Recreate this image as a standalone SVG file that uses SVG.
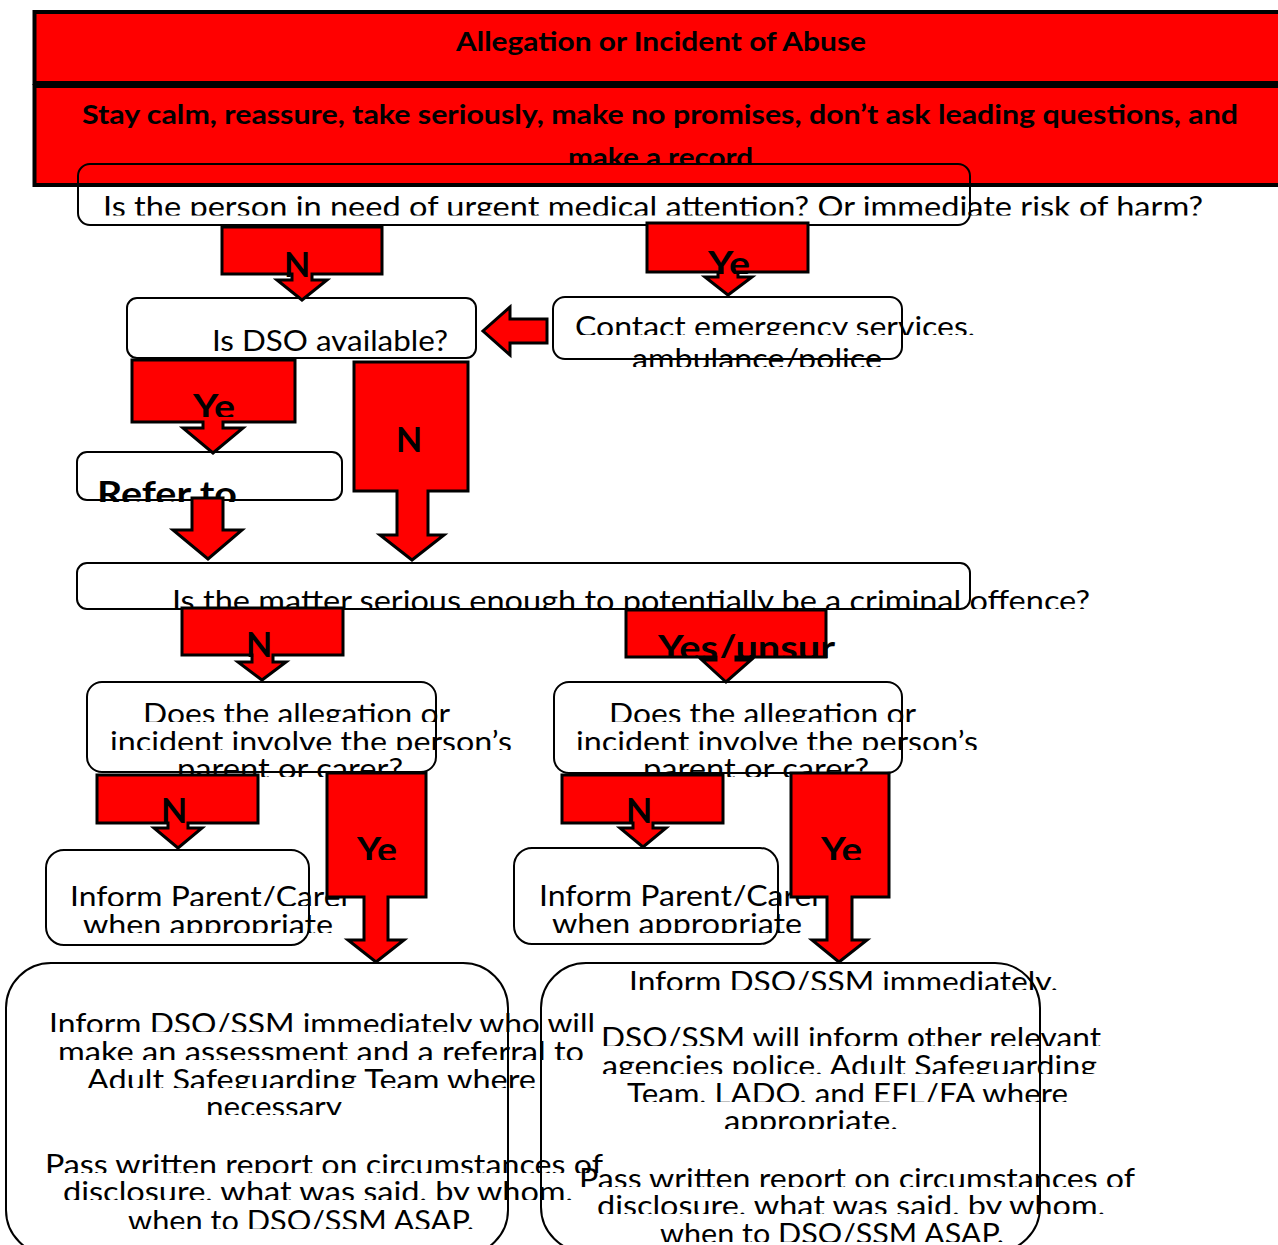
<svg xmlns="http://www.w3.org/2000/svg" width="1278" height="1245" viewBox="0 0 1278 1245">
<style>
.t{font-family:Lato,"Liberation Sans",sans-serif;font-size:29px;fill:#000}
.b{font-family:Lato,"Liberation Sans",sans-serif;font-weight:bold;fill:#000}
.hb{font-size:27px}
.lb{font-size:34px}
.box{fill:none;stroke:#000;stroke-width:2}
.hdr{fill:#f00;stroke:#000;stroke-width:4}
.arw{fill:#f00;stroke:#000;stroke-width:3;stroke-linejoin:miter}
</style>
<defs>
<clipPath id="c165"><rect x="0" y="0" width="1278" height="165"/></clipPath>
<clipPath id="c215"><rect x="0" y="0" width="1278" height="215.5"/></clipPath>
<clipPath id="c274"><rect x="0" y="0" width="1278" height="274"/></clipPath>
<clipPath id="c335"><rect x="0" y="0" width="1278" height="335"/></clipPath>
<clipPath id="c367"><rect x="0" y="0" width="1278" height="367"/></clipPath>
<clipPath id="c417"><rect x="0" y="0" width="1278" height="417"/></clipPath>
<clipPath id="c502"><rect x="0" y="0" width="1278" height="502"/></clipPath>
<clipPath id="c609"><rect x="0" y="0" width="1278" height="609"/></clipPath>
<clipPath id="c658"><rect x="0" y="0" width="1278" height="658"/></clipPath>
<clipPath id="c722"><rect x="0" y="0" width="1278" height="722"/></clipPath>
<clipPath id="c750"><rect x="0" y="0" width="1278" height="750"/></clipPath>
<clipPath id="c777"><rect x="0" y="0" width="1278" height="777"/></clipPath>
<clipPath id="c860"><rect x="0" y="0" width="1278" height="860"/></clipPath>
<clipPath id="c906"><rect x="0" y="0" width="1278" height="906"/></clipPath>
<clipPath id="c933"><rect x="0" y="0" width="1278" height="933"/></clipPath>
<clipPath id="c990"><rect x="0" y="0" width="1278" height="990"/></clipPath>
<clipPath id="c1032"><rect x="0" y="0" width="1278" height="1032"/></clipPath>
<clipPath id="c1046"><rect x="0" y="0" width="1278" height="1046"/></clipPath>
<clipPath id="c1060"><rect x="0" y="0" width="1278" height="1060"/></clipPath>
<clipPath id="c1074"><rect x="0" y="0" width="1278" height="1074"/></clipPath>
<clipPath id="c1088"><rect x="0" y="0" width="1278" height="1088"/></clipPath>
<clipPath id="c1102"><rect x="0" y="0" width="1278" height="1102"/></clipPath>
<clipPath id="c1115"><rect x="0" y="0" width="1278" height="1115"/></clipPath>
<clipPath id="c1129"><rect x="0" y="0" width="1278" height="1129"/></clipPath>
<clipPath id="c1173"><rect x="0" y="0" width="1278" height="1173"/></clipPath>
<clipPath id="c1187"><rect x="0" y="0" width="1278" height="1187"/></clipPath>
<clipPath id="c1200"><rect x="0" y="0" width="1278" height="1200"/></clipPath>
<clipPath id="c1214"><rect x="0" y="0" width="1278" height="1214"/></clipPath>
<clipPath id="c1229"><rect x="0" y="0" width="1278" height="1229"/></clipPath>
<clipPath id="c1242"><rect x="0" y="0" width="1278" height="1242"/></clipPath>
</defs>
<rect x="0" y="0" width="1278" height="1245" fill="#fff"/>

<g id="header-allegation">
<rect class="hdr" x="34.5" y="12" width="1260" height="71"/>
<text class="b hb" x="456" y="51" textLength="410" lengthAdjust="spacingAndGlyphs">Allegation or Incident of Abuse</text>
</g>
<g id="header-guidance">
<rect class="hdr" x="34.5" y="86" width="1260" height="99"/>
<text class="b hb" x="82" y="124" textLength="1156" lengthAdjust="spacingAndGlyphs">Stay calm, reassure, take seriously, make no promises, don’t ask leading questions, and</text>
<text class="b hb" x="568" y="166.5" textLength="185" lengthAdjust="spacingAndGlyphs" clip-path="url(#c165)">make a record</text>
</g>

<g id="q-urgent">
<rect class="box" x="78" y="164" width="892" height="61" rx="12"/>
<text class="t" x="103" y="217" textLength="1100" lengthAdjust="spacingAndGlyphs" clip-path="url(#c215)">Is the person in need of urgent medical attention? Or immediate risk of harm?</text>
</g>

<g id="q-dso">
<rect class="box" x="127" y="298" width="349" height="60" rx="10"/>
<text class="t" x="212" y="351" textLength="236" lengthAdjust="spacingAndGlyphs">Is DSO available?</text>
</g>

<g id="contact-emergency">
<rect class="box" x="553" y="297" width="349" height="62" rx="12"/>
<text class="t" x="575" y="336.5" textLength="400" lengthAdjust="spacingAndGlyphs" clip-path="url(#c335)">Contact emergency services,</text>
<text class="t" x="632" y="368.5" textLength="250" lengthAdjust="spacingAndGlyphs" clip-path="url(#c367)">ambulance/police</text>
</g>

<g id="refer-dso">
<rect class="box" x="77" y="452" width="265" height="48" rx="10"/>
<text class="b lb" x="97" y="506" textLength="140" lengthAdjust="spacingAndGlyphs" clip-path="url(#c502)">Refer to</text>
</g>

<g id="q-criminal">
<rect class="box" x="77" y="563" width="893" height="46" rx="10"/>
<text class="t" x="172" y="610.5" textLength="918" lengthAdjust="spacingAndGlyphs" clip-path="url(#c609)">Is the matter serious enough to potentially be a criminal offence?</text>
</g>

<g id="q-parent-left">
<rect class="box" x="87" y="682" width="349" height="90" rx="15"/>
<text class="t" x="143" y="723.5" textLength="307" lengthAdjust="spacingAndGlyphs" clip-path="url(#c722)">Does the allegation or</text>
<text class="t" x="110" y="751.5" textLength="402" lengthAdjust="spacingAndGlyphs" clip-path="url(#c750)">incident involve the person’s</text>
<text class="t" x="177" y="778.5" textLength="226" lengthAdjust="spacingAndGlyphs" clip-path="url(#c777)">parent or carer?</text>
</g>

<g id="q-parent-right">
<rect class="box" x="554" y="682" width="348" height="91" rx="15"/>
<text class="t" x="609" y="723.5" textLength="307" lengthAdjust="spacingAndGlyphs" clip-path="url(#c722)">Does the allegation or</text>
<text class="t" x="576" y="751.5" textLength="402" lengthAdjust="spacingAndGlyphs" clip-path="url(#c750)">incident involve the person’s</text>
<text class="t" x="643" y="778.5" textLength="226" lengthAdjust="spacingAndGlyphs" clip-path="url(#c777)">parent or carer?</text>
</g>

<g id="inform-parent-left">
<rect class="box" x="46" y="850" width="263" height="95" rx="18"/>
<text class="t" x="70" y="906.5" textLength="282" lengthAdjust="spacingAndGlyphs" clip-path="url(#c906)">Inform Parent/Carer</text>
<text class="t" x="83" y="934.5" textLength="250" lengthAdjust="spacingAndGlyphs" clip-path="url(#c933)">when appropriate</text>
</g>

<g id="inform-parent-right">
<rect class="box" x="514" y="848" width="264" height="96" rx="18"/>
<text class="t" x="539" y="906" textLength="284" lengthAdjust="spacingAndGlyphs" clip-path="url(#c906)">Inform Parent/Carer</text>
<text class="t" x="552" y="934" textLength="250" lengthAdjust="spacingAndGlyphs" clip-path="url(#c933)">when appropriate</text>
</g>

<g id="action-left">
<rect class="box" x="6" y="963" width="502" height="292" rx="45"/>
<text class="t" x="49" y="1033.5" textLength="546" lengthAdjust="spacingAndGlyphs" clip-path="url(#c1032)">Inform DSO/SSM immediately who will</text>
<text class="t" x="58" y="1061.5" textLength="526" lengthAdjust="spacingAndGlyphs" clip-path="url(#c1060)">make an assessment and a referral to</text>
<text class="t" x="87" y="1089.5" textLength="449" lengthAdjust="spacingAndGlyphs" clip-path="url(#c1088)">Adult Safeguarding Team where</text>
<text class="t" x="206" y="1116.5" textLength="136" lengthAdjust="spacingAndGlyphs" clip-path="url(#c1115)">necessary</text>
<text class="t" x="45" y="1174.5" textLength="558" lengthAdjust="spacingAndGlyphs" clip-path="url(#c1173)">Pass written report on circumstances of</text>
<text class="t" x="63" y="1201.5" textLength="510" lengthAdjust="spacingAndGlyphs" clip-path="url(#c1200)">disclosure, what was said, by whom,</text>
<text class="t" x="128" y="1230.5" textLength="346" lengthAdjust="spacingAndGlyphs" clip-path="url(#c1229)">when to DSO/SSM ASAP.</text>
</g>

<g id="action-right">
<rect class="box" x="541" y="963" width="499" height="289" rx="45"/>
<text class="t" x="629" y="991.5" textLength="429" lengthAdjust="spacingAndGlyphs" clip-path="url(#c990)">Inform DSO/SSM immediately.</text>
<text class="t" x="601" y="1047.5" textLength="500" lengthAdjust="spacingAndGlyphs" clip-path="url(#c1046)">DSO/SSM will inform other relevant</text>
<text class="t" x="602" y="1075.5" textLength="495" lengthAdjust="spacingAndGlyphs" clip-path="url(#c1074)">agencies police, Adult Safeguarding</text>
<text class="t" x="627" y="1103.5" textLength="441" lengthAdjust="spacingAndGlyphs" clip-path="url(#c1102)">Team, LADO, and EFL/FA where</text>
<text class="t" x="724" y="1130.5" textLength="174" lengthAdjust="spacingAndGlyphs" clip-path="url(#c1129)">appropriate.</text>
<text class="t" x="579" y="1188.5" textLength="556" lengthAdjust="spacingAndGlyphs" clip-path="url(#c1187)">Pass written report on circumstances of</text>
<text class="t" x="597" y="1215.5" textLength="508" lengthAdjust="spacingAndGlyphs" clip-path="url(#c1214)">disclosure, what was said, by whom,</text>
<text class="t" x="660" y="1243.5" textLength="344" lengthAdjust="spacingAndGlyphs" clip-path="url(#c1242)">when to DSO/SSM ASAP.</text>
</g>

<g id="connectors">
<polygon class="arw" points="222,227 382,227 382,274 312,274 312,280 327,280 302,300 277,280 292,280 292,274 222,274"/>
<text class="b lb" x="284" y="277">N</text>

<polygon class="arw" points="647,223 808,223 808,272 738,272 738,277 752,277 728,295 705,277 718,277 718,272 647,272"/>
<text class="b lb" x="708" y="276" textLength="42" lengthAdjust="spacingAndGlyphs" clip-path="url(#c274)">Ye</text>

<polygon class="arw" points="547,319 510,319 510,307 483,331 510,355 510,343 547,343"/>

<polygon class="arw" points="132,360 295,360 295,422 223,422 223,428 243,428 213,453 183,428 203,428 203,422 132,422"/>
<text class="b lb" x="193" y="419" textLength="42" lengthAdjust="spacingAndGlyphs" clip-path="url(#c417)">Ye</text>

<polygon class="arw" points="354,362 468,362 468,491 428,491 428,535 444,535 412,560 380,535 397,535 397,491 354,491"/>
<text class="b lb" x="396" y="452">N</text>

<polygon class="arw" points="192,498 223,498 223,530 242,530 208,559 173,530 192,530"/>

<polygon class="arw" points="182,608 343,608 343,655 273,655 273,662 286,662 262,680 238,662 252,662 252,655 182,655"/>
<text class="b lb" x="246" y="657">N</text>

<polygon class="arw" points="626,610 826,610 826,657 736,657 736,660 751,660 726,682 702,660 716,660 716,657 626,657"/>
<text class="b lb" x="658" y="660" textLength="177" lengthAdjust="spacingAndGlyphs" clip-path="url(#c658)">Yes/unsur</text>

<polygon class="arw" points="97,775 258,775 258,823 188,823 188,828 202,828 178,848 154,828 168,828 168,823 97,823"/>
<text class="b lb" x="161" y="823">N</text>

<polygon class="arw" points="327,773 426,773 426,897 388,897 388,940 404,940 376,962 348,940 364,940 364,897 327,897"/>
<text class="b lb" x="357" y="862" textLength="40" lengthAdjust="spacingAndGlyphs" clip-path="url(#c860)">Ye</text>

<polygon class="arw" points="562,775 723,775 723,823 653,823 653,828 666,828 643,847 620,828 633,828 633,823 562,823"/>
<text class="b lb" x="626" y="823">N</text>

<polygon class="arw" points="791,773 889,773 889,897 852,897 852,940 867,940 839,962 812,940 827,940 827,897 791,897"/>
<text class="b lb" x="821" y="862" textLength="41" lengthAdjust="spacingAndGlyphs" clip-path="url(#c860)">Ye</text>
</g>
</svg>
